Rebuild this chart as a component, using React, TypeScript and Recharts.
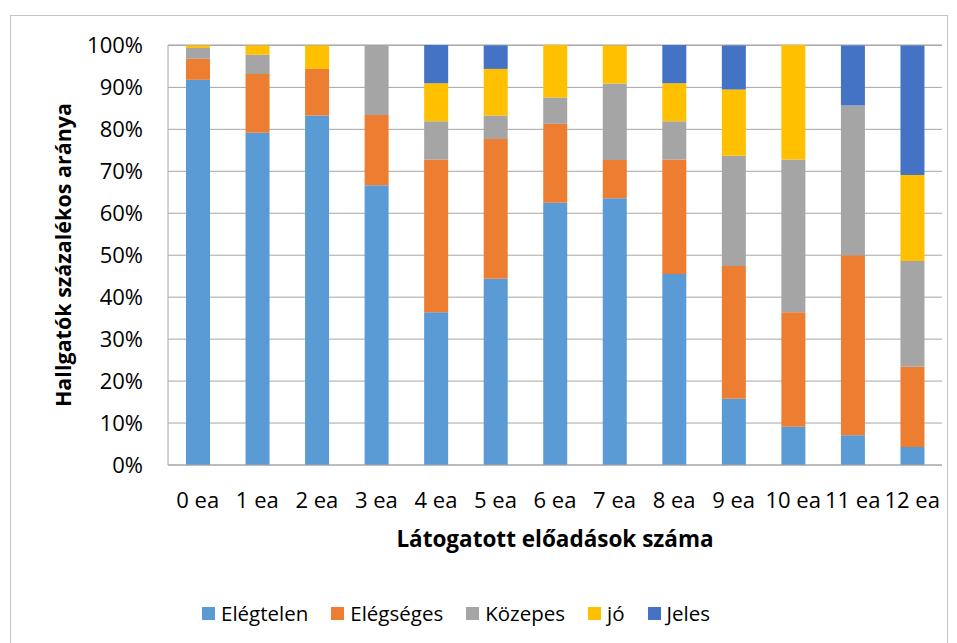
import { BarChart, Bar, XAxis, YAxis, CartesianGrid, Label } from "recharts";

const categories = ["0 ea", "1 ea", "2 ea", "3 ea", "4 ea", "5 ea", "6 ea", "7 ea", "8 ea", "9 ea", "10 ea", "11 ea", "12 ea"];
const elegtelen = [91.8, 79.2, 83.3, 66.7, 36.4, 44.4, 62.5, 63.6, 45.5, 15.8, 9.1, 7.1, 4.3];
const elegseges = [5.0, 14.0, 11.1, 16.7, 36.4, 33.3, 18.8, 9.1, 27.3, 31.6, 27.3, 42.9, 19.1];
const kozepes = [2.6, 4.6, 0, 16.7, 9.1, 5.6, 6.3, 18.2, 9.1, 26.3, 36.4, 35.7, 25.2];
const jo = [0.6, 2.2, 5.6, 0, 9.1, 11.1, 12.5, 9.1, 9.1, 15.8, 27.3, 0, 20.5];
const jeles = [0, 0, 0, 0, 9.1, 5.6, 0, 0, 9.1, 10.5, 0, 14.3, 30.9];
const yTicks = [0, 10, 20, 30, 40, 50, 60, 70, 80, 90, 100];

const series = [
  { key: "elegtelen", name: "Elégtelen", color: "#5B9BD5", values: elegtelen },
  { key: "elegseges", name: "Elégséges", color: "#ED7D31", values: elegseges },
  { key: "kozepes", name: "Közepes", color: "#A5A5A5", values: kozepes },
  { key: "jo", name: "jó", color: "#FFC000", values: jo },
  { key: "jeles", name: "Jeles", color: "#4472C4", values: jeles },
];

const data = categories.map((cat, i) => {
  const row: Record<string, string | number> = { cat };
  series.forEach((s) => (row[s.key] = s.values[i]));
  return row;
});

const font = "'Open Sans', sans-serif";

export default function App() {
  return (
    <div style={{ position: "absolute", left: 0, top: 0, width: 957, height: 643, background: "#fff", overflow: "hidden", fontFamily: font }}>
      <div style={{ position: "absolute", left: 10, top: 15, width: 936, height: 660, border: "1px solid #c4c4c4" }} />
      <BarChart
        width={957}
        height={643}
        data={data}
        margin={{ top: 45, right: 15, left: 40, bottom: 93 }}
        style={{ position: "absolute", left: 0, top: 0 }}
      >
        <CartesianGrid vertical={false} stroke="#a6a6a6" strokeWidth={1} />
        <XAxis
          dataKey="cat"
          axisLine={{ stroke: "#a6a6a6" }}
          tickLine={false}
          tickSize={0}
          tickMargin={27}
          height={85}
          interval={0}
          tick={{ fontSize: 22, fill: "#000", fontFamily: font }}
        >
          <Label value="Látogatott előadások száma" position="insideBottom" offset={3} style={{ fontSize: 22.5, fontWeight: 700, fill: "#000", fontFamily: font }} />
        </XAxis>
        <YAxis
          domain={[0, 100]}
          ticks={yTicks}
          tickFormatter={(v) => `${v}%`}
          axisLine={{ stroke: "#a6a6a6" }}
          tickLine={false}
          tickSize={0}
          tickMargin={25}
          width={128}
          tick={{ fontSize: 22, fill: "#000", fontFamily: font }}
        >
          <Label value="Hallgatók százalékos aránya" angle={-90} position="center" dx={-41} style={{ fontSize: 21.5, fontWeight: 700, fill: "#000", fontFamily: font }} />
        </YAxis>
        {series.map((s) => (
          <Bar key={s.key} dataKey={s.key} name={s.name} stackId="a" fill={s.color} barSize={24} isAnimationActive={false} />
        ))}
      </BarChart>
      <div style={{ position: "absolute", left: 0, top: 599, width: 912, display: "flex", justifyContent: "center", gap: 23, fontSize: 20.5, color: "#000" }}>
        {series.map((s) => (
          <div key={s.key} style={{ display: "flex", alignItems: "center", gap: 6 }}>
            <span style={{ width: 13, height: 13, background: s.color, display: "inline-block" }} />
            <span>{s.name}</span>
          </div>
        ))}
      </div>
    </div>
  );
}
